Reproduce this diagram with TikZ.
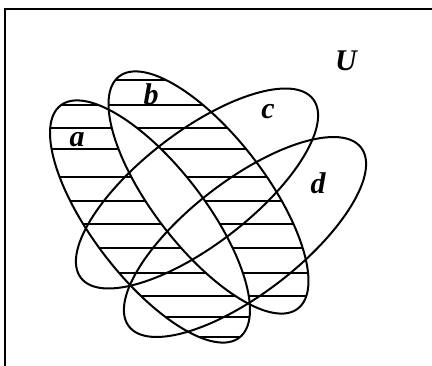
\documentclass[tikz,border=0pt]{standalone}
\usepackage{fontspec}
\setmainfont{Liberation Serif}
\begin{document}
\begin{tikzpicture}[x=1pt,y=1pt,line width=1.5pt,
  lbl/.style={font=\fontsize{30}{30}\selectfont\bfseries\itshape, inner sep=0pt},
  hatch/.style={line width=1.8pt},
  setline/.style={line width=2pt}]
\useasboundingbox (0,0) rectangle (432,365);
% universe frame
\draw[line width=2pt] (5,-20) rectangle (450,355.7);
% hatching of the symmetric difference of a and b
\begin{scope}[rotate around={-52.4:(150,143.5)}, even odd rule]
  \clip (150,143.5) ellipse [x radius=146.5pt, y radius=56.5pt]
        (162.7,207.5) ellipse [x radius=146.5pt, y radius=56.5pt];
  \begin{scope}[rotate around={52.4:(150,143.5)}]
    \foreach \yy in {285,260,236.7,216,188.3,164,140.7,116.7,92.3,69,48.3,28.3}
      \draw[hatch] (30,\yy) -- (340,\yy);
  \end{scope}
\end{scope}
% the four sets
\draw[setline, rotate around={-52.4:(150,143.5)}] (150,143.5) ellipse [x radius=146.5pt, y radius=56.5pt];
\draw[setline, rotate around={-52.4:(208.5,172.5)}] (208.5,172.5) ellipse [x radius=146.5pt, y radius=56.5pt];
\draw[setline, rotate around={37.6:(197,176.5)}] (197,176.5) ellipse [x radius=146.5pt, y radius=56.5pt];
\draw[setline, rotate around={37.6:(245,128)}] (245,128) ellipse [x radius=146.5pt, y radius=56.5pt];
% labels
\node[lbl] (la) at (77,225) {a};
\node[lbl] (lb) at (151,271) {b};
\node[lbl] (lc) at (268,253) {c};
\node[lbl] (ld) at (318,182) {d};
\node[lbl] (lU) at (346,304) {U};
\end{tikzpicture}
\end{document}
